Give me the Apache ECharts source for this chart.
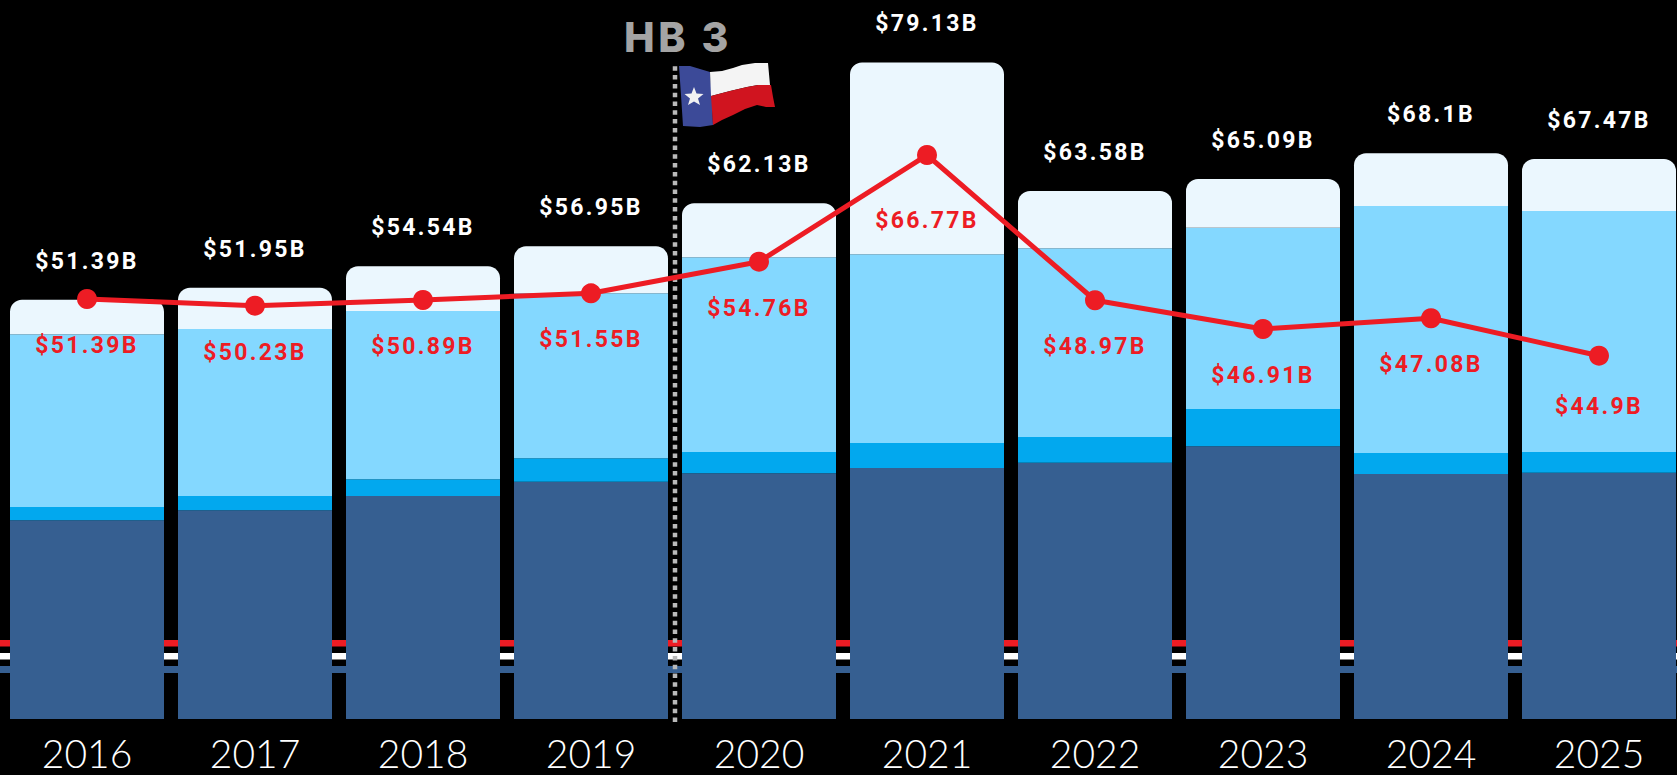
<!DOCTYPE html>
<html>
<head>
<meta charset="utf-8">
<script src="https://cdn.jsdelivr.net/npm/echarts@6/dist/echarts.min.js"></script>
<style>
html,body{margin:0;padding:0;background:#000;overflow:hidden}
#c{width:1677px;height:775px}
#c text[style*="Roboto"]{letter-spacing:2.3px}
#c text[style*="Inter"]{letter-spacing:3.5px}
</style>
</head>
<body>
<div id="c"></div>
<script>
const years = ['2016','2017','2018','2019','2020','2021','2022','2023','2024','2025'];
const darkBlue = [23.94,25.14,26.87,28.59,29.60,30.24,30.88,32.86,29.52,29.67];
const midBlue = [1.60,1.72,2.01,2.82,2.57,3.01,3.10,4.49,2.53,2.49];
const lightBlue = [20.81,20.12,20.28,19.88,23.46,22.73,22.73,21.84,29.76,29.04];
const paleTop = [4.17,4.98,5.39,5.66,6.51,23.13,6.90,5.87,6.35,6.27];
const redLine = [50.60,49.80,50.48,51.29,55.10,67.95,50.45,46.99,48.28,43.77];
const totalLabels = ['$51.39B','$51.95B','$54.54B','$56.95B','$62.13B','$79.13B','$63.58B','$65.09B','$68.1B','$67.47B'];
const redLabels = ['$51.39B','$50.23B','$50.89B','$51.55B','$54.76B','$66.77B','$48.97B','$46.91B','$47.08B','$44.9B'];
const hb3Position = 3.5;
const hb3Span = [-0.36, 78.8];

const chart = echarts.init(document.getElementById('c'), null, {renderer:'svg', width:1677, height:775});
const RED = '#ed1c24';
const labelFont = {fontFamily:'Roboto', fontWeight:700, fontSize:23};
const bar = (name, data, color, extra) => Object.assign({
  name, type:'bar', stack:'t', data, barWidth:154, itemStyle:{color}, silent:true, z:3
}, extra||{});

chart.setOption({
  animation:false,
  backgroundColor:'#000',
  grid:{left:3, right:-6, top:13.5, bottom:56, outerBoundsMode:'none'},
  xAxis:[
    {type:'category', data:years, axisLine:{show:false}, axisTick:{show:false},
     axisLabel:{color:'#fff', fontFamily:'Lato', fontWeight:300, fontSize:39, lineHeight:39, margin:14, interval:0}},
    {type:'value', min:-0.5, max:9.5, show:false}
  ],
  yAxis:{type:'value', min:0, max:85, show:false},
  series:[
    bar('dark', darkBlue, '#365f91'),
    bar('mid', midBlue, '#02a8ee'),
    bar('light', lightBlue, '#84d8ff'),
    bar('pale', paleTop, '#ebf7fe', {
      itemStyle:{color:'#ebf7fe', borderRadius:[12,12,0,0]},
      label:Object.assign({show:true, position:'top', distance:27, color:'#fff',
        formatter:p=>totalLabels[p.dataIndex]}, labelFont)
    }),
    {name:'HB 3', type:'line', xAxisIndex:1, data:hb3Span.map(v=>[hb3Position,v]), symbol:'none', silent:true, clip:false, z:4,
     lineStyle:{color:'#b9b9b9', width:4.5, type:[4.5,4.3], cap:'butt'}},
    {name:'red', type:'line', data:redLine.map((v,i)=>{
        const d = i===5 ? 44 : i===9 ? 29 : 25;
        return {value:v, label:{distance:d}};
      }),
     symbol:'circle', symbolSize:20, silent:true, z:5, clip:false,
     lineStyle:{color:RED, width:5}, itemStyle:{color:RED},
     label:Object.assign({show:true, position:'bottom', color:RED,
       formatter:p=>redLabels[p.dataIndex]}, labelFont)}
  ],
  graphic:[
    {type:'rect', z:-1, shape:{x:0,y:640,width:1677,height:6.5}, style:{fill:RED}},
    {type:'rect', z:-1, shape:{x:0,y:653,width:1677,height:6.5}, style:{fill:'#fff'}},
    {type:'rect', z:-1, shape:{x:0,y:666,width:1677,height:7}, style:{fill:'#365f91'}},
    {type:'text', z:10, x:678, y:37, style:{text:'HB 3', fill:'#a4a4a4', font:'800 41px Inter', textAlign:'center', textVerticalAlign:'middle'}},
    {type:'polygon', z:10, shape:{points:[[679,66],[690,66],[700,69],[710,72],[712,100],[713,125],[700,127],[683,126],[681,95]]}, style:{fill:'#3c4a98'}},
    {type:'polygon', z:10, shape:{points:[[710,72],[722,71],[733,68],[742,65],[755,63],[768,63],[770,85],[758,85],[747,87],[730,91],[711,96]]}, style:{fill:'#f4f4f4'}},
    {type:'polygon', z:10, shape:{points:[[711,96],[730,91],[747,87],[758,85],[771,85],[773,97],[775,107],[766,107],[757,105],[745,109],[733,115],[722,120],[713,125]]}, style:{fill:'#d0141f'}},
    {type:'polygon', z:11, shape:{points:[[694,87],[696.5,93.5],[703.5,94],[698,98.5],[700,105],[694,101.5],[688,105],[690,98.5],[684.5,94],[691.5,93.5]]}, style:{fill:'#f2f2f2'}}
  ]
});
</script>
</body>
</html>
